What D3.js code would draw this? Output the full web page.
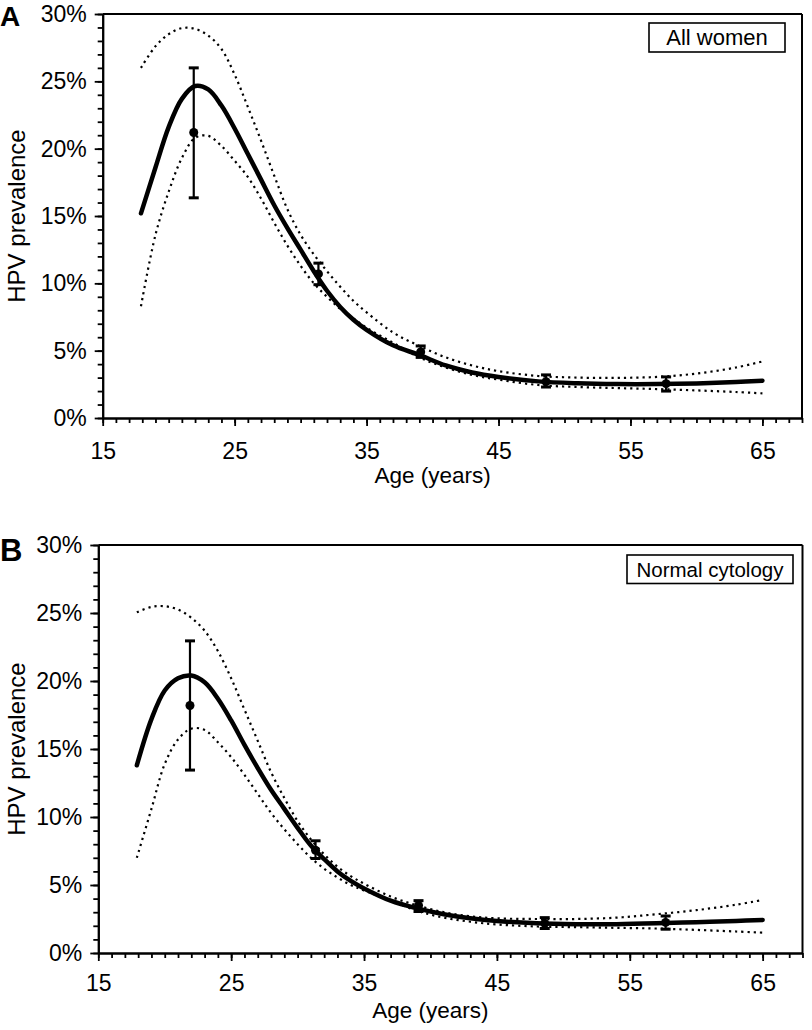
<!DOCTYPE html>
<html>
<head>
<meta charset="utf-8">
<script src="https://cdn.jsdelivr.net/npm/d3@7"></script>
<style>
  body { margin: 0; background: #fff; }
  svg { display: block; }
  text { font-family: "Liberation Sans", Arial, Helvetica, sans-serif; fill: #000; }
</style>
</head>
<body>
<svg id="chart" width="812" height="1030"></svg>
<script>
// ---------------- DATA ----------------
const fitAges = [17.9,19,20,21,22,23,24,25,26,27,28,29,30,31,32,33,34,35,37,39,41,43,45,48,51,54,57,60,63,65];

// Panel A: All women
const fitA   = [15.2,18.6,21.6,23.7,24.65,24.4,23.2,21.5,19.6,17.7,15.8,14.1,12.5,10.9,9.45,8.25,7.3,6.55,5.4,4.68,3.9,3.38,3.05,2.72,2.58,2.52,2.52,2.57,2.67,2.77];
const upperA = [26.0,27.6,28.5,28.95,28.9,28.4,27.4,25.5,23.1,20.6,18.0,15.5,13.6,12.15,10.9,9.75,8.7,7.85,6.35,5.35,4.5,3.9,3.48,3.12,3.0,2.98,3.05,3.3,3.75,4.2];
const lowerA = [8.3,13.6,16.8,19.3,20.8,20.95,20.2,19.1,17.9,16.3,14.5,12.8,11.3,10.0,9.0,8.1,7.4,6.7,5.6,4.5,3.75,3.2,2.85,2.45,2.3,2.22,2.15,2.05,1.93,1.83];

// Panel B: Normal cytology
const fitB   = [13.8,17.2,19.3,20.2,20.4,19.9,18.7,17.1,15.3,13.6,12.0,10.6,9.2,7.9,6.9,6.0,5.3,4.75,3.85,3.28,2.85,2.55,2.35,2.18,2.12,2.12,2.18,2.27,2.36,2.43];
const upperB = [25.05,25.45,25.5,25.25,24.65,23.7,22.2,20.2,17.9,15.6,13.3,11.4,9.7,8.35,7.25,6.35,5.65,5.1,4.15,3.5,3.0,2.7,2.55,2.5,2.5,2.6,2.85,3.15,3.55,3.9];
const lowerB = [7.0,10.6,13.9,15.7,16.5,16.4,15.5,14.4,13.1,11.7,10.3,9.1,8.0,7.0,6.2,5.55,5.0,4.6,3.85,3.1,2.6,2.3,2.1,1.95,1.9,1.85,1.8,1.7,1.58,1.5];

// Observed points (age group means) with error bars
const ptAges = [21.9, 31.35, 39.1, 48.6, 57.7];
const ptA    = [21.2, 10.7, 4.9, 2.7, 2.55];
const ptLoA  = [16.35, 9.9, 4.5, 2.3, 2.0];
const ptHiA  = [26.0, 11.5, 5.35, 3.2, 3.05];
const ptB    = [18.2, 7.55, 3.5, 2.18, 2.25];
const ptLoB  = [13.45, 6.95, 3.05, 1.8, 1.75];
const ptHiB  = [22.95, 8.25, 3.85, 2.6, 2.72];

const xMajorTicks = [15, 25, 35, 45, 55, 65];
const yMajorTicks = [0, 5, 10, 15, 20, 25, 30];
const panelLabels = ["A", "B"];
const legendLabels = ["All women", "Normal cytology"];
const xTitle = "Age (years)";
const yTitle = "HPV prevalence";

// ---------------- LAYOUT ----------------
const layouts = [
  { left: 102.7, right: 802, top: 14, bottom: 418, xPad: 17,
    label: { x: 0, y: 26, size: 28 },
    box: { x0: 649, x1: 785, y0: 23, y1: 52, size: 22 } },
  { left: 98.3, right: 802.5, top: 545, bottom: 953, xPad: 14,
    label: { x: 0, y: 561, size: 31 },
    box: { x0: 627, x1: 793, y0: 555, y1: 583.5, size: 20.5 } }
];

const series = [
  { fit: fitA, upper: upperA, lower: lowerA, pt: ptA, lo: ptLoA, hi: ptHiA },
  { fit: fitB, upper: upperB, lower: lowerB, pt: ptB, lo: ptLoB, hi: ptHiB }
];

const svg = d3.select("#chart");

layouts.forEach((L, i) => {
  const S = series[i];
  const x = d3.scaleLinear().domain([15, 68]).range([L.left, L.right]);
  const y = d3.scaleLinear().domain([0, 30]).range([L.bottom, L.top]);
  const g = svg.append("g");

  // frame top & right
  g.append("line").attr("x1", x(15)).attr("x2", x(68)).attr("y1", y(30)).attr("y2", y(30))
    .attr("stroke", "#000").attr("stroke-width", 2);
  g.append("line").attr("x1", x(68)).attr("x2", x(68)).attr("y1", y(30)).attr("y2", y(0))
    .attr("stroke", "#000").attr("stroke-width", 2);

  // minor ticks
  const xMinor = d3.axisBottom(x).tickValues(d3.range(15, 69, 1)).tickSize(5).tickSizeOuter(0).tickFormat("");
  const yMinor = d3.axisLeft(y).tickValues(d3.range(0, 31, 1)).tickSize(5).tickSizeOuter(0).tickFormat("");
  const gxm = g.append("g").attr("transform", `translate(0,${L.bottom})`).call(xMinor);
  const gym = g.append("g").attr("transform", `translate(${L.left},0)`).call(yMinor);

  // major ticks with labels
  const xMajor = d3.axisBottom(x).tickValues(xMajorTicks).tickSize(8).tickSizeOuter(0).tickPadding(L.xPad)
    .tickFormat(d3.format("d"));
  const yMajor = d3.axisLeft(y).tickValues(yMajorTicks).tickSize(8).tickSizeOuter(0).tickPadding(8)
    .tickFormat(d => d + "%");
  const gx = g.append("g").attr("transform", `translate(0,${L.bottom})`).call(xMajor);
  const gy = g.append("g").attr("transform", `translate(${L.left},0)`).call(yMajor);

  [gxm, gym, gx, gy].forEach(a => {
    a.select(".domain").attr("stroke", "#000").attr("stroke-width", 2);
    a.selectAll(".tick line").attr("stroke", "#000").attr("stroke-width", 1.8);
    a.selectAll(".tick text").style("font-family", '"Liberation Sans", Arial, sans-serif')
      .style("font-size", "23px").attr("fill", "#000");
  });

  // axis titles
  g.append("text").attr("x", (x(15) + x(65)) / 2).attr("y", L.bottom + 65)
    .attr("text-anchor", "middle").style("font-size", "22.5px").text(xTitle);
  g.append("text")
    .attr("transform", `translate(25,${(L.top + L.bottom) / 2}) rotate(-90)`)
    .attr("text-anchor", "middle").style("font-size", "24px").text(yTitle);

  // panel label
  g.append("text").attr("x", L.label.x).attr("y", L.label.y)
    .style("font-size", L.label.size + "px").style("font-weight", "bold").text(panelLabels[i]);

  // legend box
  g.append("rect").attr("x", L.box.x0).attr("y", L.box.y0)
    .attr("width", L.box.x1 - L.box.x0).attr("height", L.box.y1 - L.box.y0)
    .attr("fill", "#fff").attr("stroke", "#000").attr("stroke-width", 1.6);
  g.append("text").attr("x", (L.box.x0 + L.box.x1) / 2).attr("y", (L.box.y0 + L.box.y1) / 2)
    .attr("dy", "0.36em").attr("text-anchor", "middle")
    .style("font-size", L.box.size + "px").text(legendLabels[i]);

  // curves
  const line = d3.line().x((d, k) => x(fitAges[k])).y(d => y(d)).curve(d3.curveCatmullRom.alpha(0.5));
  g.append("path").datum(S.upper).attr("d", line).attr("fill", "none")
    .attr("stroke", "#000").attr("stroke-width", 2.2).attr("stroke-dasharray", "2.2,4");
  g.append("path").datum(S.lower).attr("d", line).attr("fill", "none")
    .attr("stroke", "#000").attr("stroke-width", 2.2).attr("stroke-dasharray", "2.2,4");
  g.append("path").datum(S.fit).attr("d", line).attr("fill", "none")
    .attr("stroke", "#000").attr("stroke-width", 4.5).attr("stroke-linecap", "round");

  // error bars and points
  const pts = ptAges.map((a, k) => ({ age: a, v: S.pt[k], lo: S.lo[k], hi: S.hi[k] }));
  const eb = g.append("g").selectAll("g").data(pts).join("g");
  eb.append("line").attr("x1", d => x(d.age)).attr("x2", d => x(d.age))
    .attr("y1", d => y(d.lo)).attr("y2", d => y(d.hi)).attr("stroke", "#000").attr("stroke-width", 2.2);
  eb.append("line").attr("x1", d => x(d.age) - 5).attr("x2", d => x(d.age) + 5)
    .attr("y1", d => y(d.lo)).attr("y2", d => y(d.lo)).attr("stroke", "#000").attr("stroke-width", 3);
  eb.append("line").attr("x1", d => x(d.age) - 5).attr("x2", d => x(d.age) + 5)
    .attr("y1", d => y(d.hi)).attr("y2", d => y(d.hi)).attr("stroke", "#000").attr("stroke-width", 3);
  eb.append("circle").attr("cx", d => x(d.age)).attr("cy", d => y(d.v)).attr("r", 4.5).attr("fill", "#000");
});
</script>
</body>
</html>
